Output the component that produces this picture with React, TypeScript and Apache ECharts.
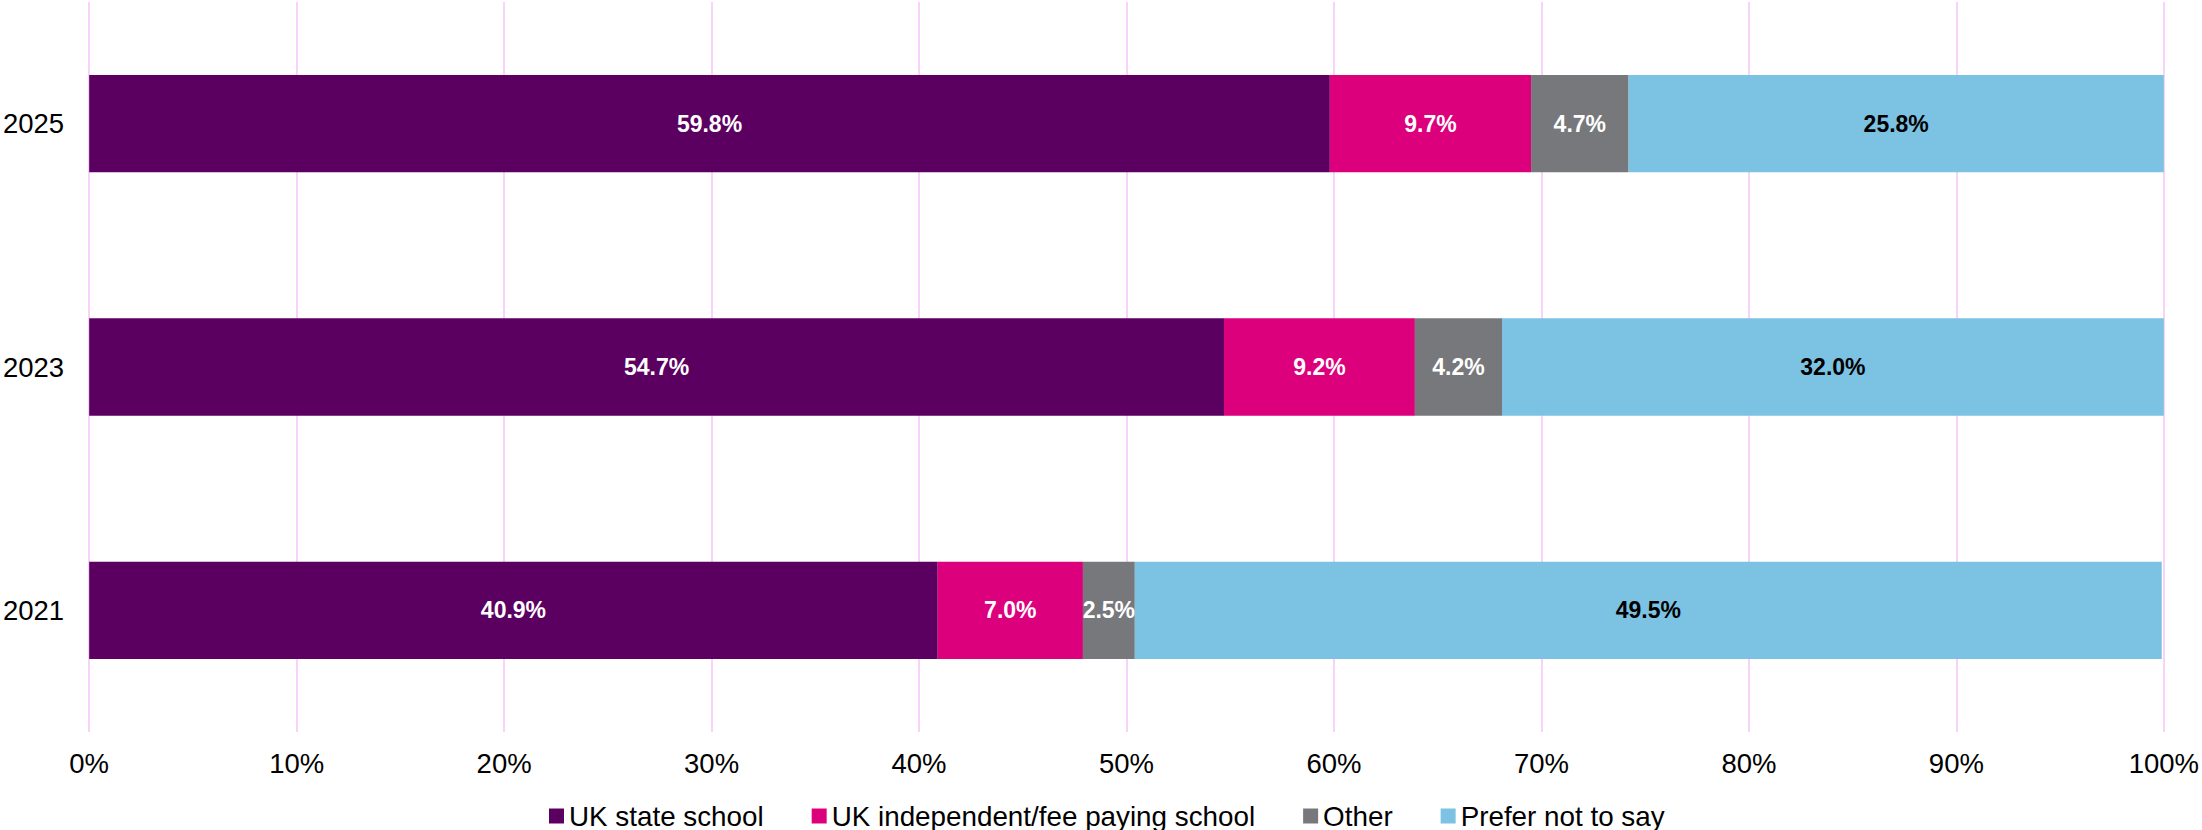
import React, { useEffect, useRef } from "react";
import * as echarts from "echarts";

const years = ["2021", "2023", "2025"];
const seriesNames = ["UK state school", "UK independent/fee paying school", "Other", "Prefer not to say"];
const stateSchool = [40.9, 54.7, 59.8];
const independentSchool = [7.0, 9.2, 9.7];
const otherSchool = [2.5, 4.2, 4.7];
const preferNotToSay = [49.5, 32.0, 25.8];
const xTicks = [0, 10, 20, 30, 40, 50, 60, 70, 80, 90, 100];

const colors = ["#5B0060", "#DC007C", "#77787B", "#7BC2E3"];
const labelColors = ["#FFFFFF", "#FFFFFF", "#FFFFFF", "#000000"];
const FONT = "'Liberation Sans', Arial, sans-serif";

export default function App() {
  const ref = useRef<HTMLDivElement>(null);
  useEffect(() => {
    document.body.style.margin = "0";
    if (!ref.current) return;
    const chart = echarts.init(ref.current, undefined, { renderer: "svg" });
    const values = [stateSchool, independentSchool, otherSchool, preferNotToSay];
    chart.setOption({
      animation: false,
      backgroundColor: "#FFFFFF",
      textStyle: { fontFamily: FONT },
      grid: { left: 85, right: 35, top: 2, bottom: 98, containLabel: false },
      legend: {
        left: 544,
        top: 796,
        itemWidth: 15,
        itemHeight: 15,
        itemGap: 48,
        icon: "rect",
        textStyle: { fontSize: 27.8, lineHeight: 30, color: "#000000", fontFamily: FONT },
        data: seriesNames,
      },
      xAxis: {
        type: "value",
        min: xTicks[0],
        max: xTicks[xTicks.length - 1],
        interval: 10,
        axisLine: { show: false },
        axisTick: { show: false },
        splitLine: { show: true, lineStyle: { color: "#F5C4F7", width: 1.5 } },
        axisLabel: {
          fontSize: 27.5,
          color: "#000000",
          fontFamily: FONT,
          margin: 17,
          formatter: (v: number) => `${v}%`,
        },
      },
      yAxis: {
        type: "category",
        data: years,
        axisLine: { show: false },
        axisTick: { show: false },
        splitLine: { show: false },
        axisLabel: { fontSize: 27.5, color: "#000000", fontFamily: FONT, margin: 25 },
      },
      series: seriesNames.map((name, i) => ({
        name,
        type: "bar",
        stack: "total",
        barWidth: "40%",
        itemStyle: { color: colors[i] },
        label: {
          show: true,
          position: "inside",
          color: labelColors[i],
          fontSize: 23,
          fontWeight: "bold",
          fontFamily: FONT,
          formatter: (p: any) => `${Number(p.value).toFixed(1)}%`,
        },
        data: values[i],
      })),
    });
    return () => chart.dispose();
  }, []);
  return <div ref={ref} style={{ width: 2202, height: 830 }} />;
}
